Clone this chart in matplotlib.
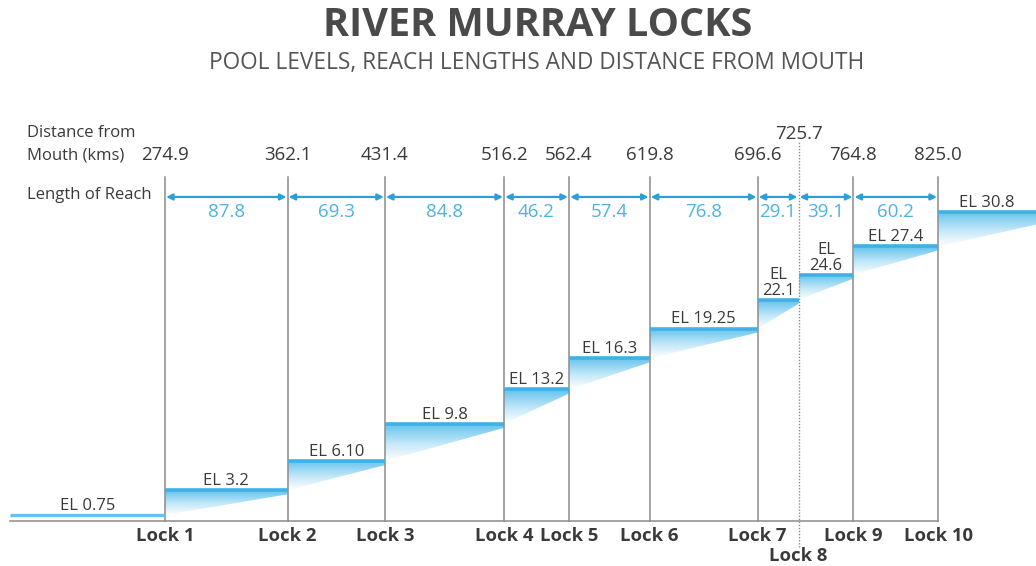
import numpy as np
import matplotlib
matplotlib.use('Agg')
import matplotlib.pyplot as plt
from matplotlib.colors import LinearSegmentedColormap
from matplotlib.patches import Polygon

plt.rcParams['font.family'] = ['Open Sans', 'DejaVu Sans']

# data
locks = ['Lock 1', 'Lock 2', 'Lock 3', 'Lock 4', 'Lock 5',
         'Lock 6', 'Lock 7', 'Lock 8', 'Lock 9', 'Lock 10']
distance = [274.9, 362.1, 431.4, 516.2, 562.4, 619.8, 696.6, 725.7, 764.8, 825.0]
distance_labels = ['274.9', '362.1', '431.4', '516.2', '562.4',
                   '619.8', '696.6', '725.7', '764.8', '825.0']
reach = [87.8, 69.3, 84.8, 46.2, 57.4, 76.8, 29.1, 39.1, 60.2]
pool_levels = [0.75, 3.2, 6.10, 9.8, 13.2, 16.3, 19.25, 22.1, 24.6, 27.4, 30.8]
pool_labels = ['EL 0.75', 'EL 3.2', 'EL 6.10', 'EL 9.8', 'EL 13.2', 'EL 16.3',
               'EL 19.25', 'EL\n22.1', 'EL\n24.6', 'EL 27.4', 'EL 30.8']

# colours
BLUE_LINE = '#3fb1e6'
BLUE_ARROW = '#2a9fd9'
BLUE_TEXT = '#4cb3e0'
GREY = '#8c8c8c'
TEXT = '#3a3a3a'

fig = plt.figure(figsize=(10.36, 5.66), dpi=100)
ax = fig.add_axes([0, 0, 1, 1])
ax.set_xlim(157.5, 894.7)
ax.set_ylim(-4.31, 51.84)
ax.axis('off')
tr = ax.get_xaxis_transform()  # x in km, y in axes fraction

x_start = 164.6          # left end of the lower pool
x_end = ax.get_xlim()[1]
wedge_end = distance[-1] + 97

cmap = LinearSegmentedColormap.from_list(
    'water', [(0, '#ffffff'), (0.45, '#c4e8f8'), (1, '#62c2ee')])
grad = np.linspace(0, 1, 256).reshape(-1, 1)

# lower pool below Lock 1
ax.plot([x_start, distance[0]], [pool_levels[0], pool_levels[0]],
        color='#63c3ec', lw=2.4, solid_capstyle='butt', zorder=3)

# pools with gradient wedges
for i in range(1, len(pool_levels)):
    x0 = distance[i - 1]
    x1 = distance[i] if i < len(distance) else wedge_end
    top = pool_levels[i]
    bl = pool_levels[i - 1]
    br = top - 0.4
    poly = Polygon([(x0, top), (x1, top), (x1, br), (x0, bl)],
                   closed=True, facecolor='none', edgecolor='none')
    ax.add_patch(poly)
    im = ax.imshow(grad, cmap=cmap, extent=[x0, x1, bl, top], origin='lower',
                   aspect='auto', interpolation='bilinear', zorder=1)
    im.set_clip_path(poly)
    ax.plot([x0, min(x1, x_end)], [top, top], color=BLUE_LINE, lw=2.6,
            solid_capstyle='butt', zorder=3)

# pool labels
pool_x0 = [x_start] + distance
pool_x1 = distance + [x_end]
for i, lab in enumerate(pool_labels):
    xm = (pool_x0[i] + pool_x1[i]) / 2
    ax.text(xm, pool_levels[i] + 0.5, lab, ha='center', va='baseline',
            fontsize=12, color=TEXT, linespacing=0.95, zorder=4)

# baseline
ax.plot([x_start, distance[-1]], [0.12, 0.12], color=GREY, lw=1.1, zorder=2)

# lock lines and labels
for i, (d, name) in enumerate(zip(distance, locks)):
    if name == 'Lock 8':
        ax.plot([d, d], [0.034, 0.749], transform=tr, color=GREY, lw=1.0,
                ls=(0, (1, 1.2)), zorder=2)
        ax.text(d, 0.018, name, transform=tr, ha='center', va='center',
                fontsize=13.3, fontweight='bold', color=TEXT)
        ax.text(d, 0.764, distance_labels[i], transform=tr, ha='center',
                va='center', fontsize=13.5, color=TEXT)
    else:
        ax.plot([d, d], [0.0795, 0.687], transform=tr, color=GREY, lw=1.1, zorder=2)
        ax.text(d, 0.053, name, transform=tr, ha='center', va='center',
                fontsize=13.3, fontweight='bold', color=TEXT)
        ax.text(d, 0.726, distance_labels[i], transform=tr, ha='center',
                va='center', fontsize=13.5, color=TEXT)

# reach arrows
for i, r in enumerate(reach):
    a, b = distance[i], distance[i + 1]
    ax.annotate('', xy=(b - 0.8, 0.652), xytext=(a + 0.8, 0.652),
                xycoords=tr, textcoords=tr,
                arrowprops=dict(arrowstyle='<|-|>', color=BLUE_ARROW, lw=1.6,
                                mutation_scale=9, shrinkA=0, shrinkB=0))
    ax.text((a + b) / 2, 0.626, f'{r:.1f}', transform=tr, ha='center',
            va='center', fontsize=13.5, color=BLUE_TEXT)

# row headers
ax.text(0.026, 0.765, 'Distance from', transform=ax.transAxes, ha='left',
        va='center', fontsize=12, color=TEXT)
ax.text(0.026, 0.726, 'Mouth (kms)', transform=ax.transAxes, ha='left',
        va='center', fontsize=12, color=TEXT)
ax.text(0.026, 0.655, 'Length of Reach', transform=ax.transAxes, ha='left',
        va='center', fontsize=12, color=TEXT)

# titles
fig.text(0.519, 0.955, 'RIVER MURRAY LOCKS', ha='center', va='center',
         fontsize=28.5, fontweight='bold', color='#4a4a4a')
fig.text(0.518, 0.888, 'POOL LEVELS, REACH LENGTHS AND DISTANCE FROM MOUTH',
         ha='center', va='center', fontsize=16.3, color='#555555')

fig.savefig('out.png', dpi=100, facecolor='white')
